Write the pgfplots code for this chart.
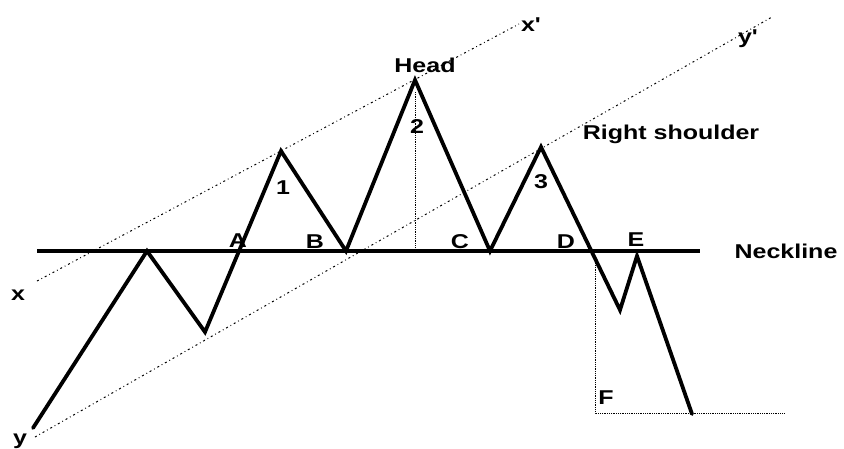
\documentclass[border=0pt]{standalone}
\usepackage{pgfplots}
\pgfplotsset{compat=1.18}
\usepackage{fontspec}
\usepackage{graphicx}
\setmainfont{Liberation Sans}
\newcommand{\lab}[1]{\scalebox{1.25}[1]{\fontsize{20}{24}\selectfont\bfseries #1}}
\tikzset{lbl/.style={inner sep=0pt, anchor=center}}

\begin{document}
\begin{tikzpicture}
\begin{axis}[
    scale only axis,
    width=844pt, height=448pt,
    xmin=0, xmax=844, ymin=0, ymax=448,
    y dir=reverse,
    hide axis,
    clip=false,
]
% trend channel lines x-x' and y-y'
\addplot[black, line width=1pt, dash pattern=on 2pt off 3pt on 0.8pt off 3pt] coordinates {(37,281) (519,24)};
\addplot[black, line width=1pt, dash pattern=on 2pt off 3pt on 0.8pt off 3pt] coordinates {(35,437) (772,17)};
% measuring lines
\addplot[black, line width=0.8pt, densely dotted] coordinates {(415,92) (415,250)};
\addplot[black, line width=0.8pt, densely dotted] coordinates {(595,256) (595,413) (785,413)};
% neckline
\addplot[black, line width=3.2pt] coordinates {(37,251) (700,251)};
% price path
\addplot[black, line width=3.8pt, line join=miter, line cap=round] coordinates {
  (33,428) (147,251) (205,332) (281,151) (346,251) (415,80)
  (490,251) (541,147) (620,310) (637,256) (692,414)
};

\node[lbl] at (axis cs:425,65) {\lab{Head}};
\node[lbl] at (axis cs:531,25) {\lab{x\textquotesingle}};
\node[lbl] at (axis cs:748,39) {\lab{y\textquotesingle}};
\node[lbl] at (axis cs:671,134) {\lab{Right shoulder}};
\node[lbl] at (axis cs:283,188) {\lab{1}};
\node[lbl] at (axis cs:417,127) {\lab{2}};
\node[lbl] at (axis cs:541,182) {\lab{3}};
\node[lbl] at (axis cs:238,241) {\lab{A}};
\node[lbl] at (axis cs:315,242) {\lab{B}};
\node[lbl] at (axis cs:460,242) {\lab{C}};
\node[lbl] at (axis cs:566,242) {\lab{D}};
\node[lbl] at (axis cs:636,240) {\lab{E}};
\node[lbl] at (axis cs:606,398) {\lab{F}};
\node[lbl] at (axis cs:786,251) {\lab{Neckline}};
\node[lbl] at (axis cs:18,295) {\lab{x}};
\node[lbl] at (axis cs:20,441) {\lab{y}};
\end{axis}
\pgfresetboundingbox
\path (current axis.south west) rectangle (current axis.north east);
\end{tikzpicture}
\end{document}
